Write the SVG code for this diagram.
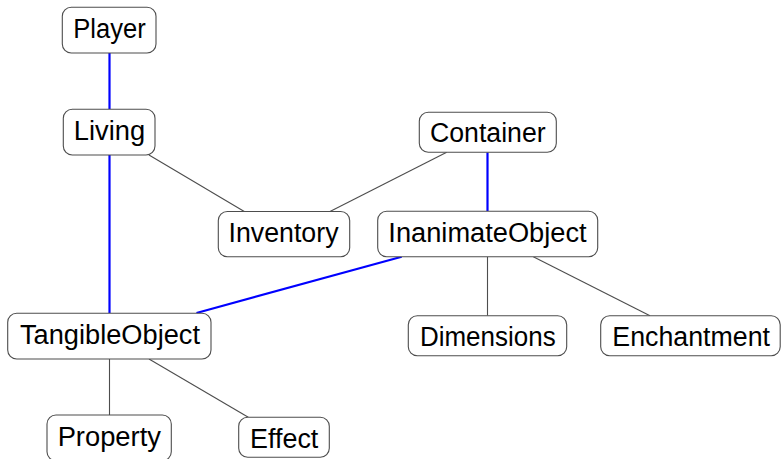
<svg xmlns="http://www.w3.org/2000/svg" width="781" height="459" viewBox="0 0 781 459">
<style>
.box{fill:#fff;stroke:#4d4d4d;stroke-width:1.1}
.lbl{font-family:"Liberation Sans",Arial,sans-serif;font-size:27px;fill:#000;text-anchor:middle}
.blue{stroke:#0000ff;stroke-width:2.2;fill:none}
.gray{stroke:#4d4d4d;stroke-width:1.1;fill:none}
</style>
<rect width="781" height="459" fill="#fff"/>
<g id="connectors">
<line class="blue" x1="109.5" y1="53" x2="109.5" y2="109"/>
<line class="blue" x1="109.5" y1="155" x2="109.5" y2="313"/>
<line class="gray" x1="149" y1="155" x2="244.3" y2="211.5"/>
<line class="gray" x1="446.7" y1="152.3" x2="330" y2="211.5"/>
<line class="blue" x1="487.5" y1="152.3" x2="487.5" y2="211"/>
<line class="blue" x1="401.7" y1="256.7" x2="196.5" y2="313"/>
<line class="gray" x1="487.5" y1="256.7" x2="487.5" y2="315.7"/>
<line class="gray" x1="533.3" y1="256.7" x2="650" y2="315.7"/>
<line class="gray" x1="109.5" y1="359" x2="109.5" y2="415"/>
<line class="gray" x1="149" y1="359" x2="248.3" y2="417.3"/>
</g>
<g id="Player"><rect class="box" x="62.3" y="7.3" width="93.7" height="45.7" rx="9"/><text class="lbl" x="109.5" y="38.3" textLength="72.4" lengthAdjust="spacingAndGlyphs">Player</text></g>
<g id="Living"><rect class="box" x="63.3" y="109.3" width="91.7" height="45.7" rx="9"/><text class="lbl" x="109.5" y="140.3" textLength="71.3" lengthAdjust="spacingAndGlyphs">Living</text></g>
<g id="Container"><rect class="box" x="419.3" y="112.3" width="137" height="40" rx="9"/><text class="lbl" x="487.8" y="141.7" textLength="115.7" lengthAdjust="spacingAndGlyphs">Container</text></g>
<g id="Inventory"><rect class="box" x="218.3" y="211.5" width="131.4" height="45.2" rx="9"/><text class="lbl" x="283.5" y="241.9" textLength="110" lengthAdjust="spacingAndGlyphs">Inventory</text></g>
<g id="InanimateObject"><rect class="box" x="377.7" y="211.2" width="220" height="45.5" rx="9"/><text class="lbl" x="487.5" y="242" textLength="198.3" lengthAdjust="spacingAndGlyphs">InanimateObject</text></g>
<g id="TangibleObject"><rect class="box" x="7.7" y="313.3" width="203.3" height="45.7" rx="9"/><text class="lbl" x="110" y="343.6" textLength="180" lengthAdjust="spacingAndGlyphs">TangibleObject</text></g>
<g id="Dimensions"><rect class="box" x="408.3" y="315.7" width="158.4" height="40" rx="9"/><text class="lbl" x="487.8" y="345.7" textLength="135.7" lengthAdjust="spacingAndGlyphs">Dimensions</text></g>
<g id="Enchantment"><rect class="box" x="600.7" y="315.7" width="179.5" height="40" rx="9"/><text class="lbl" x="691.2" y="345.7" textLength="157.7" lengthAdjust="spacingAndGlyphs">Enchantment</text></g>
<g id="Property"><rect class="box" x="47" y="415" width="124.3" height="45.7" rx="9"/><text class="lbl" x="109.3" y="445.7" textLength="103.3" lengthAdjust="spacingAndGlyphs">Property</text></g>
<g id="Effect"><rect class="box" x="238.7" y="417.3" width="90.6" height="40" rx="9"/><text class="lbl" x="284.2" y="447.7" textLength="68.3" lengthAdjust="spacingAndGlyphs">Effect</text></g>
</svg>
